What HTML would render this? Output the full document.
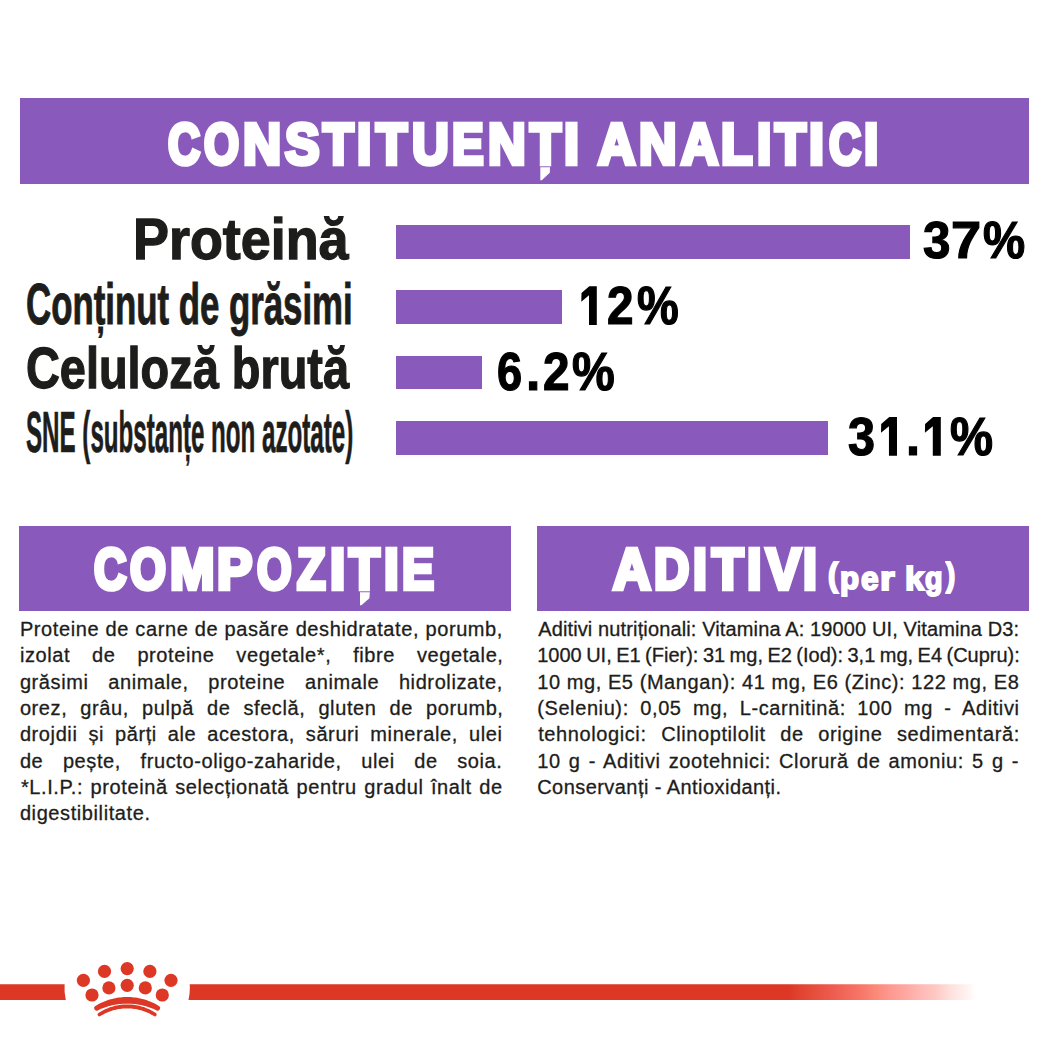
<!DOCTYPE html>
<html><head><meta charset="utf-8"><style>
html,body{margin:0;padding:0;background:#fff;}
body{width:1049px;height:1049px;position:relative;overflow:hidden;font-family:"Liberation Sans",sans-serif;}
.r{position:absolute;}
.t{position:absolute;height:0;line-height:0;white-space:pre;transform-origin:0 0;}
.t span{display:inline-block;line-height:0;}
</style></head><body>

<div class="r" style="left:19.5px;top:98.2px;width:1009.7px;height:85.7px;background:#8a59bc"></div>
<div class="r" style="left:19.4px;top:525.5px;width:491.8px;height:85.4px;background:#8a59bc"></div>
<div class="r" style="left:537.4px;top:525.5px;width:491.6px;height:85.4px;background:#8a59bc"></div>
<div class="r" style="left:395.8px;top:224.8px;width:513.9px;height:33.8px;background:#8a59bc"></div>
<div class="r" style="left:395.8px;top:289.9px;width:166.6px;height:34.5px;background:#8a59bc"></div>
<div class="r" style="left:395.8px;top:355.8px;width:85.8px;height:33.6px;background:#8a59bc"></div>
<div class="r" style="left:395.8px;top:421.0px;width:432.2px;height:34.3px;background:#8a59bc"></div>
<div class="t" style="left:133.36px;top:238.70px;font-size:56.96px;font-weight:700;color:#1d1d1b;-webkit-text-stroke:1.3px #1d1d1b;transform:scaleX(0.9460)"><span>Proteină</span></div>
<div class="t" style="left:26.10px;top:303.60px;font-size:58.17px;font-weight:700;color:#1d1d1b;-webkit-text-stroke:1.0px #1d1d1b;transform:scaleX(0.5983)"><span>Conținut de grăsimi</span></div>
<div class="t" style="left:26.08px;top:367.50px;font-size:57.75px;font-weight:700;color:#1d1d1b;-webkit-text-stroke:1.3px #1d1d1b;transform:scaleX(0.8118)"><span>Celuloză brută</span></div>
<div class="t" style="left:25.58px;top:431.70px;font-size:57.68px;font-weight:700;color:#1d1d1b;-webkit-text-stroke:0.7px #1d1d1b;transform:scaleX(0.4186)"><span>SNE (substanțe non azotate)</span></div>
<div class="t" style="left:167.70px;top:143.80px;font-size:57.68px;font-weight:700;color:#fff;-webkit-text-stroke:4.6px #fff;transform:scaleX(0.7698)"><span>C</span></div>
<div class="t" style="left:204.20px;top:143.80px;font-size:57.68px;font-weight:700;color:#fff;-webkit-text-stroke:4.6px #fff;transform:scaleX(0.7822)"><span>O</span></div>
<div class="t" style="left:243.27px;top:143.80px;font-size:57.68px;font-weight:700;color:#fff;-webkit-text-stroke:4.6px #fff;transform:scaleX(0.9158)"><span>N</span></div>
<div class="t" style="left:285.10px;top:143.80px;font-size:57.68px;font-weight:700;color:#fff;-webkit-text-stroke:4.6px #fff;transform:scaleX(0.8974)"><span>S</span></div>
<div class="t" style="left:322.74px;top:143.80px;font-size:57.68px;font-weight:700;color:#fff;-webkit-text-stroke:4.6px #fff;transform:scaleX(0.8692)"><span>T</span></div>
<div class="t" style="left:357.42px;top:143.80px;font-size:57.68px;font-weight:700;color:#fff;-webkit-text-stroke:4.6px #fff;transform:scaleX(0.8917)"><span>I</span></div>
<div class="t" style="left:375.96px;top:143.80px;font-size:57.68px;font-weight:700;color:#fff;-webkit-text-stroke:4.6px #fff;transform:scaleX(0.8821)"><span>T</span></div>
<div class="t" style="left:411.52px;top:143.80px;font-size:57.68px;font-weight:700;color:#fff;-webkit-text-stroke:4.6px #fff;transform:scaleX(0.8821)"><span>U</span></div>
<div class="t" style="left:451.56px;top:143.80px;font-size:57.68px;font-weight:700;color:#fff;-webkit-text-stroke:4.6px #fff;transform:scaleX(0.8216)"><span>E</span></div>
<div class="t" style="left:487.59px;top:143.80px;font-size:57.68px;font-weight:700;color:#fff;-webkit-text-stroke:4.6px #fff;transform:scaleX(0.9053)"><span>N</span></div>
<div class="t" style="left:529.56px;top:143.80px;font-size:57.68px;font-weight:700;color:#fff;-webkit-text-stroke:4.6px #fff;transform:scaleX(0.8795)"><span>T</span></div>
<div class="t" style="left:564.33px;top:143.80px;font-size:57.68px;font-weight:700;color:#fff;-webkit-text-stroke:4.6px #fff;transform:scaleX(0.9333)"><span>I</span></div>
<div class="t" style="left:598.39px;top:143.80px;font-size:57.68px;font-weight:700;color:#fff;-webkit-text-stroke:4.6px #fff;transform:scaleX(0.8956)"><span>A</span></div>
<div class="t" style="left:638.90px;top:143.80px;font-size:57.68px;font-weight:700;color:#fff;-webkit-text-stroke:4.6px #fff;transform:scaleX(0.9000)"><span>N</span></div>
<div class="t" style="left:680.99px;top:143.80px;font-size:57.68px;font-weight:700;color:#fff;-webkit-text-stroke:4.6px #fff;transform:scaleX(0.8933)"><span>A</span></div>
<div class="t" style="left:721.41px;top:143.80px;font-size:57.68px;font-weight:700;color:#fff;-webkit-text-stroke:4.6px #fff;transform:scaleX(0.8941)"><span>L</span></div>
<div class="t" style="left:756.52px;top:143.80px;font-size:57.68px;font-weight:700;color:#fff;-webkit-text-stroke:4.6px #fff;transform:scaleX(0.8917)"><span>I</span></div>
<div class="t" style="left:774.75px;top:143.80px;font-size:57.68px;font-weight:700;color:#fff;-webkit-text-stroke:4.6px #fff;transform:scaleX(0.8769)"><span>T</span></div>
<div class="t" style="left:809.43px;top:143.80px;font-size:57.68px;font-weight:700;color:#fff;-webkit-text-stroke:4.6px #fff;transform:scaleX(0.9333)"><span>I</span></div>
<div class="t" style="left:828.50px;top:143.80px;font-size:57.68px;font-weight:700;color:#fff;-webkit-text-stroke:4.6px #fff;transform:scaleX(0.7674)"><span>C</span></div>
<div class="t" style="left:864.42px;top:143.80px;font-size:57.68px;font-weight:700;color:#fff;-webkit-text-stroke:4.6px #fff;transform:scaleX(0.8917)"><span>I</span></div>
<div class="t" style="left:94.00px;top:569.00px;font-size:57.1px;font-weight:700;color:#fff;-webkit-text-stroke:4.6px #fff;transform:scaleX(0.7857)"><span>C</span></div>
<div class="t" style="left:130.00px;top:569.00px;font-size:57.1px;font-weight:700;color:#fff;-webkit-text-stroke:4.6px #fff;transform:scaleX(0.8091)"><span>O</span></div>
<div class="t" style="left:169.53px;top:569.00px;font-size:57.1px;font-weight:700;color:#fff;-webkit-text-stroke:4.6px #fff;transform:scaleX(0.9364)"><span>M</span></div>
<div class="t" style="left:217.44px;top:569.00px;font-size:57.1px;font-weight:700;color:#fff;-webkit-text-stroke:4.6px #fff;transform:scaleX(0.9278)"><span>P</span></div>
<div class="t" style="left:256.80px;top:569.00px;font-size:57.1px;font-weight:700;color:#fff;-webkit-text-stroke:4.6px #fff;transform:scaleX(0.7795)"><span>O</span></div>
<div class="t" style="left:297.02px;top:569.00px;font-size:57.1px;font-weight:700;color:#fff;-webkit-text-stroke:4.6px #fff;transform:scaleX(0.8189)"><span>Z</span></div>
<div class="t" style="left:330.08px;top:569.00px;font-size:57.1px;font-weight:700;color:#fff;-webkit-text-stroke:4.6px #fff;transform:scaleX(0.9583)"><span>I</span></div>
<div class="t" style="left:349.26px;top:569.00px;font-size:57.1px;font-weight:700;color:#fff;-webkit-text-stroke:4.6px #fff;transform:scaleX(0.8795)"><span>T</span></div>
<div class="t" style="left:384.25px;top:569.00px;font-size:57.1px;font-weight:700;color:#fff;-webkit-text-stroke:4.6px #fff;transform:scaleX(0.9250)"><span>I</span></div>
<div class="t" style="left:402.42px;top:569.00px;font-size:57.1px;font-weight:700;color:#fff;-webkit-text-stroke:4.6px #fff;transform:scaleX(0.8417)"><span>E</span></div>
<div class="t" style="left:612.50px;top:569.00px;font-size:57.97px;font-weight:700;color:#fff;-webkit-text-stroke:4.6px #fff;transform:scaleX(0.9022)"><span>A</span></div>
<div class="t" style="left:653.61px;top:569.00px;font-size:57.97px;font-weight:700;color:#fff;-webkit-text-stroke:4.6px #fff;transform:scaleX(0.8450)"><span>D</span></div>
<div class="t" style="left:693.08px;top:569.00px;font-size:57.97px;font-weight:700;color:#fff;-webkit-text-stroke:4.6px #fff;transform:scaleX(0.8615)"><span>I</span></div>
<div class="t" style="left:711.68px;top:569.00px;font-size:57.97px;font-weight:700;color:#fff;-webkit-text-stroke:4.6px #fff;transform:scaleX(0.8897)"><span>T</span></div>
<div class="t" style="left:747.20px;top:569.00px;font-size:57.97px;font-weight:700;color:#fff;-webkit-text-stroke:4.6px #fff;transform:scaleX(0.9000)"><span>I</span></div>
<div class="t" style="left:765.91px;top:569.00px;font-size:57.97px;font-weight:700;color:#fff;-webkit-text-stroke:4.6px #fff;transform:scaleX(0.9023)"><span>V</span></div>
<div class="t" style="left:802.98px;top:569.00px;font-size:57.97px;font-weight:700;color:#fff;-webkit-text-stroke:4.6px #fff;transform:scaleX(0.8615)"><span>I</span></div>
<div class="t" style="left:828.17px;top:574.90px;font-size:32.56px;font-weight:700;color:#fff;-webkit-text-stroke:2.0px #fff;transform:scaleX(0.9273)"><span>(</span></div>
<div class="t" style="left:840.32px;top:577.70px;font-size:31.68px;font-weight:700;color:#fff;-webkit-text-stroke:2.0px #fff;transform:scaleX(0.9833)"><span>p</span></div>
<div class="t" style="left:861.00px;top:578.70px;font-size:33.42px;font-weight:700;color:#fff;-webkit-text-stroke:2.0px #fff;transform:scaleX(0.9474)"><span>e</span></div>
<div class="t" style="left:879.98px;top:578.70px;font-size:33.42px;font-weight:700;color:#fff;-webkit-text-stroke:2.0px #fff;transform:scaleX(1.1231)"><span>r</span></div>
<div class="t" style="left:905.17px;top:578.70px;font-size:33.42px;font-weight:700;color:#fff;-webkit-text-stroke:2.0px #fff;transform:scaleX(1.0316)"><span>k</span></div>
<div class="t" style="left:925.40px;top:578.10px;font-size:32.22px;font-weight:700;color:#fff;-webkit-text-stroke:2.0px #fff;transform:scaleX(0.8895)"><span>g</span></div>
<div class="t" style="left:945.55px;top:574.90px;font-size:32.56px;font-weight:700;color:#fff;-webkit-text-stroke:2.0px #fff;transform:scaleX(0.8455)"><span>)</span></div>
<svg class="r" style="left:0;top:0" width="1049" height="1049" viewBox="0 0 1049 1049" fill="#fff"><polygon points="540.3,167.2 550.0,167.2 549.8,172.8 541.8,180.2 540.3,180.2"/><polygon points="360.0,592.2 369.8,592.2 369.4,598.3 361.4,605.2 360.0,605.2"/></svg>
<div class="t" style="left:922.96px;top:240.40px;font-size:52.54px;font-weight:700;color:#000;-webkit-text-stroke:1.2px #000;transform:scaleX(0.9407)"><span>3</span></div>
<div class="t" style="left:951.24px;top:240.40px;font-size:52.54px;font-weight:700;color:#000;-webkit-text-stroke:1.2px #000;transform:scaleX(1.0320)"><span>7</span></div>
<div class="t" style="left:982.50px;top:240.40px;font-size:52.54px;font-weight:700;color:#000;-webkit-text-stroke:1.2px #000;transform:scaleX(0.9022)"><span>%</span></div>
<div class="t" style="left:607.40px;top:305.90px;font-size:52.82px;font-weight:700;color:#000;-webkit-text-stroke:1.2px #000;transform:scaleX(0.9037)"><span>2</span></div>
<div class="t" style="left:637.21px;top:305.90px;font-size:52.82px;font-weight:700;color:#000;-webkit-text-stroke:1.2px #000;transform:scaleX(0.8889)"><span>%</span></div>
<div class="t" style="left:497.25px;top:371.80px;font-size:53.24px;font-weight:700;color:#000;-webkit-text-stroke:1.2px #000;transform:scaleX(0.8481)"><span>6</span></div>
<div class="t" style="left:526.10px;top:371.80px;font-size:53.24px;font-weight:700;color:#000;-webkit-text-stroke:1.2px #000;transform:scaleX(0.9667)"><span>.</span></div>
<div class="t" style="left:543.00px;top:371.80px;font-size:53.24px;font-weight:700;color:#000;-webkit-text-stroke:1.2px #000;transform:scaleX(0.8963)"><span>2</span></div>
<div class="t" style="left:572.40px;top:371.80px;font-size:53.24px;font-weight:700;color:#000;-webkit-text-stroke:1.2px #000;transform:scaleX(0.9022)"><span>%</span></div>
<div class="t" style="left:848.38px;top:436.80px;font-size:52.82px;font-weight:700;color:#000;-webkit-text-stroke:1.2px #000;transform:scaleX(0.9185)"><span>3</span></div>
<div class="t" style="left:905.53px;top:436.80px;font-size:52.82px;font-weight:700;color:#000;-webkit-text-stroke:1.2px #000;transform:scaleX(0.9556)"><span>.</span></div>
<div class="t" style="left:949.68px;top:436.80px;font-size:52.82px;font-weight:700;color:#000;-webkit-text-stroke:1.2px #000;transform:scaleX(0.9156)"><span>%</span></div>
<svg class="r" style="left:0;top:0" width="1049" height="1049" viewBox="0 0 1049 1049" fill="#000"><polygon points="589.30,286.20 596.80,286.20 596.80,324.90 589.00,324.90 589.00,295.33 581.30,301.76 581.50,293.01"/><polygon points="889.25,417.10 897.00,417.10 897.00,455.80 888.95,455.80 888.95,426.23 881.00,432.66 881.20,423.91"/><polygon points="933.10,417.10 940.80,417.10 940.80,455.80 932.80,455.80 932.80,426.23 924.90,432.66 925.10,423.91"/></svg>
<div class="t" style="left:19.90px;top:628.90px;font-size:20px;letter-spacing:0.600px;word-spacing:0.200px;color:#1d1d1b;-webkit-text-stroke:0.3px #1d1d1b"><span>Proteine de carne de pasăre deshidratate, porumb,</span></div>
<div class="t" style="left:19.90px;top:655.25px;font-size:20px;letter-spacing:0.600px;word-spacing:15.720px;color:#1d1d1b;-webkit-text-stroke:0.3px #1d1d1b"><span>izolat de proteine vegetale*, fibre vegetale,</span></div>
<div class="t" style="left:19.90px;top:681.60px;font-size:20px;letter-spacing:0.600px;word-spacing:13.500px;color:#1d1d1b;-webkit-text-stroke:0.3px #1d1d1b"><span>grăsimi animale, proteine animale hidrolizate,</span></div>
<div class="t" style="left:19.90px;top:707.95px;font-size:20px;letter-spacing:0.600px;word-spacing:6.857px;color:#1d1d1b;-webkit-text-stroke:0.3px #1d1d1b"><span>orez, grâu, pulpă de sfeclă, gluten de porumb,</span></div>
<div class="t" style="left:19.90px;top:734.30px;font-size:20px;letter-spacing:0.600px;word-spacing:4.771px;color:#1d1d1b;-webkit-text-stroke:0.3px #1d1d1b"><span>drojdii și părți ale acestora, săruri minerale, ulei</span></div>
<div class="t" style="left:19.90px;top:760.65px;font-size:20px;letter-spacing:0.600px;word-spacing:13.400px;color:#1d1d1b;-webkit-text-stroke:0.3px #1d1d1b"><span>de pește, fructo-oligo-zaharide, ulei de soia.</span></div>
<div class="t" style="left:20.90px;top:787.00px;font-size:20px;letter-spacing:0.600px;word-spacing:1.300px;color:#1d1d1b;-webkit-text-stroke:0.3px #1d1d1b"><span>*L.I.P.: proteină selecționată pentru gradul înalt de</span></div>
<div class="t" style="left:19.90px;top:813.35px;font-size:20px;letter-spacing:0.593px;word-spacing:0.000px;color:#1d1d1b;-webkit-text-stroke:0.3px #1d1d1b"><span>digestibilitate.</span></div>
<div class="t" style="left:538.20px;top:628.90px;font-size:20px;letter-spacing:0.127px;word-spacing:0.000px;color:#1d1d1b;-webkit-text-stroke:0.3px #1d1d1b"><span>Aditivi nutriționali: Vitamina A: 19000 UI, Vitamina D3:</span></div>
<div class="t" style="left:537.20px;top:655.25px;font-size:20px;letter-spacing:0.000px;word-spacing:-1.091px;color:#1d1d1b;-webkit-text-stroke:0.3px #1d1d1b"><span>1000 UI, E1 (Fier): 31 mg, E2 (Iod): 3,1 mg, E4 (Cupru):</span></div>
<div class="t" style="left:537.20px;top:681.60px;font-size:20px;letter-spacing:0.574px;word-spacing:-0.000px;color:#1d1d1b;-webkit-text-stroke:0.3px #1d1d1b"><span>10 mg, E5 (Mangan): 41 mg, E6 (Zinc): 122 mg, E8</span></div>
<div class="t" style="left:537.20px;top:707.95px;font-size:20px;letter-spacing:0.600px;word-spacing:5.314px;color:#1d1d1b;-webkit-text-stroke:0.3px #1d1d1b"><span>(Seleniu): 0,05 mg, L-carnitină: 100 mg - Aditivi</span></div>
<div class="t" style="left:538.20px;top:734.30px;font-size:20px;letter-spacing:0.600px;word-spacing:8.400px;color:#1d1d1b;-webkit-text-stroke:0.3px #1d1d1b"><span>tehnologici: Clinoptilolit de origine sedimentară:</span></div>
<div class="t" style="left:537.20px;top:760.65px;font-size:20px;letter-spacing:0.600px;word-spacing:2.000px;color:#1d1d1b;-webkit-text-stroke:0.3px #1d1d1b"><span>10 g - Aditivi zootehnici: Clorură de amoniu: 5 g -</span></div>
<div class="t" style="left:537.20px;top:787.00px;font-size:20px;letter-spacing:0.442px;word-spacing:0.000px;color:#1d1d1b;-webkit-text-stroke:0.3px #1d1d1b"><span>Conservanți - Antioxidanți.</span></div>
<svg class="r" style="left:0;top:950px" width="1049" height="80" viewBox="0 950 1049 80">
<defs><linearGradient id="g" x1="0" x2="1049" y1="0" y2="0" gradientUnits="userSpaceOnUse">
<stop offset="0.7521" stop-color="#dd3826"/>
<stop offset="0.7626" stop-color="#e04430"/>
<stop offset="0.7912" stop-color="#ec5a4c"/>
<stop offset="0.8198" stop-color="#f77568"/>
<stop offset="0.8341" stop-color="#fb8878"/>
<stop offset="0.8484" stop-color="#fe9890"/>
<stop offset="0.8627" stop-color="#fda8a0"/>
<stop offset="0.8770" stop-color="#ffb8b4"/>
<stop offset="0.8913" stop-color="#fdc8c2"/>
<stop offset="0.9056" stop-color="#fde0dc"/>
<stop offset="0.9199" stop-color="#fff0ee"/>
<stop offset="0.9304" stop-color="#ffffff"/>
</linearGradient></defs>
<path d="M0 984.15 H64.6 Q64.0 992 65.8 1000 H0 Z" fill="#dd3826"/>
<path d="M189.7 984.15 H976 V1000 H188.5 Q190.3 992 189.7 984.15 Z" fill="url(#g)"/>
<g fill="#dd3826">
<circle cx="127.2" cy="968.6" r="6.6"/>
<circle cx="104.5" cy="971.4" r="6.6"/>
<circle cx="149.9" cy="971.4" r="6.6"/>
<circle cx="83.4" cy="980.3" r="6.6"/>
<circle cx="171.0" cy="980.3" r="6.6"/>
<circle cx="127.2" cy="985.3" r="6.6"/>
<circle cx="108.9" cy="987.9" r="6.6"/>
<circle cx="145.3" cy="987.9" r="6.6"/>
<circle cx="92.0" cy="995.0" r="6.6"/>
<circle cx="162.3" cy="995.0" r="6.6"/>
<path d="M95.30 1006.01 L96.73 1005.17 L98.19 1004.36 L99.67 1003.60 L101.17 1002.87 L102.69 1002.18 L104.23 1001.53 L105.79 1000.92 L107.37 1000.35 L108.96 999.82 L110.56 999.34 L112.18 998.90 L113.81 998.50 L115.45 998.15 L117.11 997.85 L118.77 997.59 L120.43 997.38 L122.11 997.21 L123.79 997.09 L125.47 997.02 L127.15 997.00 L128.83 997.02 L130.51 997.09 L132.19 997.21 L133.87 997.38 L135.53 997.59 L137.19 997.85 L138.85 998.15 L140.49 998.50 L142.12 998.90 L143.74 999.34 L145.34 999.82 L146.93 1000.35 L148.51 1000.92 L150.07 1001.53 L151.61 1002.18 L153.13 1002.87 L154.63 1003.60 L156.11 1004.36 L157.57 1005.17 L159.00 1006.01 A2.50 2.50 0 0 1 156.60 1010.39 L155.21 1009.73 L153.81 1009.10 L152.40 1008.51 L150.97 1007.96 L149.53 1007.43 L148.08 1006.95 L146.62 1006.50 L145.16 1006.08 L143.68 1005.70 L142.20 1005.35 L140.71 1005.03 L139.22 1004.75 L137.72 1004.50 L136.22 1004.29 L134.71 1004.11 L133.20 1003.96 L131.69 1003.85 L130.18 1003.77 L128.66 1003.72 L127.15 1003.70 L125.64 1003.72 L124.12 1003.77 L122.61 1003.85 L121.10 1003.96 L119.59 1004.11 L118.08 1004.29 L116.58 1004.50 L115.08 1004.75 L113.59 1005.03 L112.10 1005.35 L110.62 1005.70 L109.14 1006.08 L107.68 1006.50 L106.22 1006.95 L104.77 1007.43 L103.33 1007.96 L101.90 1008.51 L100.49 1009.10 L99.09 1009.73 L97.70 1010.39 A2.50 2.50 0 0 1 95.30 1006.01 Z"/>
<path d="M98.42 1013.09 L99.70 1012.27 L101.00 1011.49 L102.33 1010.74 L103.67 1010.03 L105.04 1009.36 L106.42 1008.74 L107.83 1008.15 L109.25 1007.60 L110.68 1007.09 L112.13 1006.63 L113.60 1006.21 L115.07 1005.83 L116.56 1005.50 L118.05 1005.21 L119.56 1004.96 L121.07 1004.76 L122.58 1004.60 L124.10 1004.49 L125.63 1004.42 L127.15 1004.40 L128.67 1004.42 L130.20 1004.49 L131.72 1004.60 L133.23 1004.76 L134.74 1004.96 L136.25 1005.21 L137.74 1005.50 L139.23 1005.83 L140.70 1006.21 L142.17 1006.63 L143.62 1007.09 L145.05 1007.60 L146.47 1008.15 L147.88 1008.74 L149.26 1009.36 L150.63 1010.03 L151.97 1010.74 L153.30 1011.49 L154.60 1012.27 L155.88 1013.09 A1.80 1.80 0 0 1 153.92 1016.11 L152.71 1015.37 L151.49 1014.67 L150.24 1014.00 L148.98 1013.37 L147.69 1012.77 L146.40 1012.21 L145.08 1011.69 L143.76 1011.21 L142.42 1010.76 L141.07 1010.35 L139.71 1009.98 L138.34 1009.65 L136.96 1009.36 L135.57 1009.11 L134.18 1008.89 L132.78 1008.71 L131.37 1008.58 L129.97 1008.48 L128.56 1008.42 L127.15 1008.40 L125.74 1008.42 L124.33 1008.48 L122.93 1008.58 L121.52 1008.71 L120.12 1008.89 L118.73 1009.11 L117.34 1009.36 L115.96 1009.65 L114.59 1009.98 L113.23 1010.35 L111.88 1010.76 L110.54 1011.21 L109.22 1011.69 L107.90 1012.21 L106.61 1012.77 L105.32 1013.37 L104.06 1014.00 L102.81 1014.67 L101.59 1015.37 L100.38 1016.11 A1.80 1.80 0 0 1 98.42 1013.09 Z"/>
</g>
</svg>
</body></html>
